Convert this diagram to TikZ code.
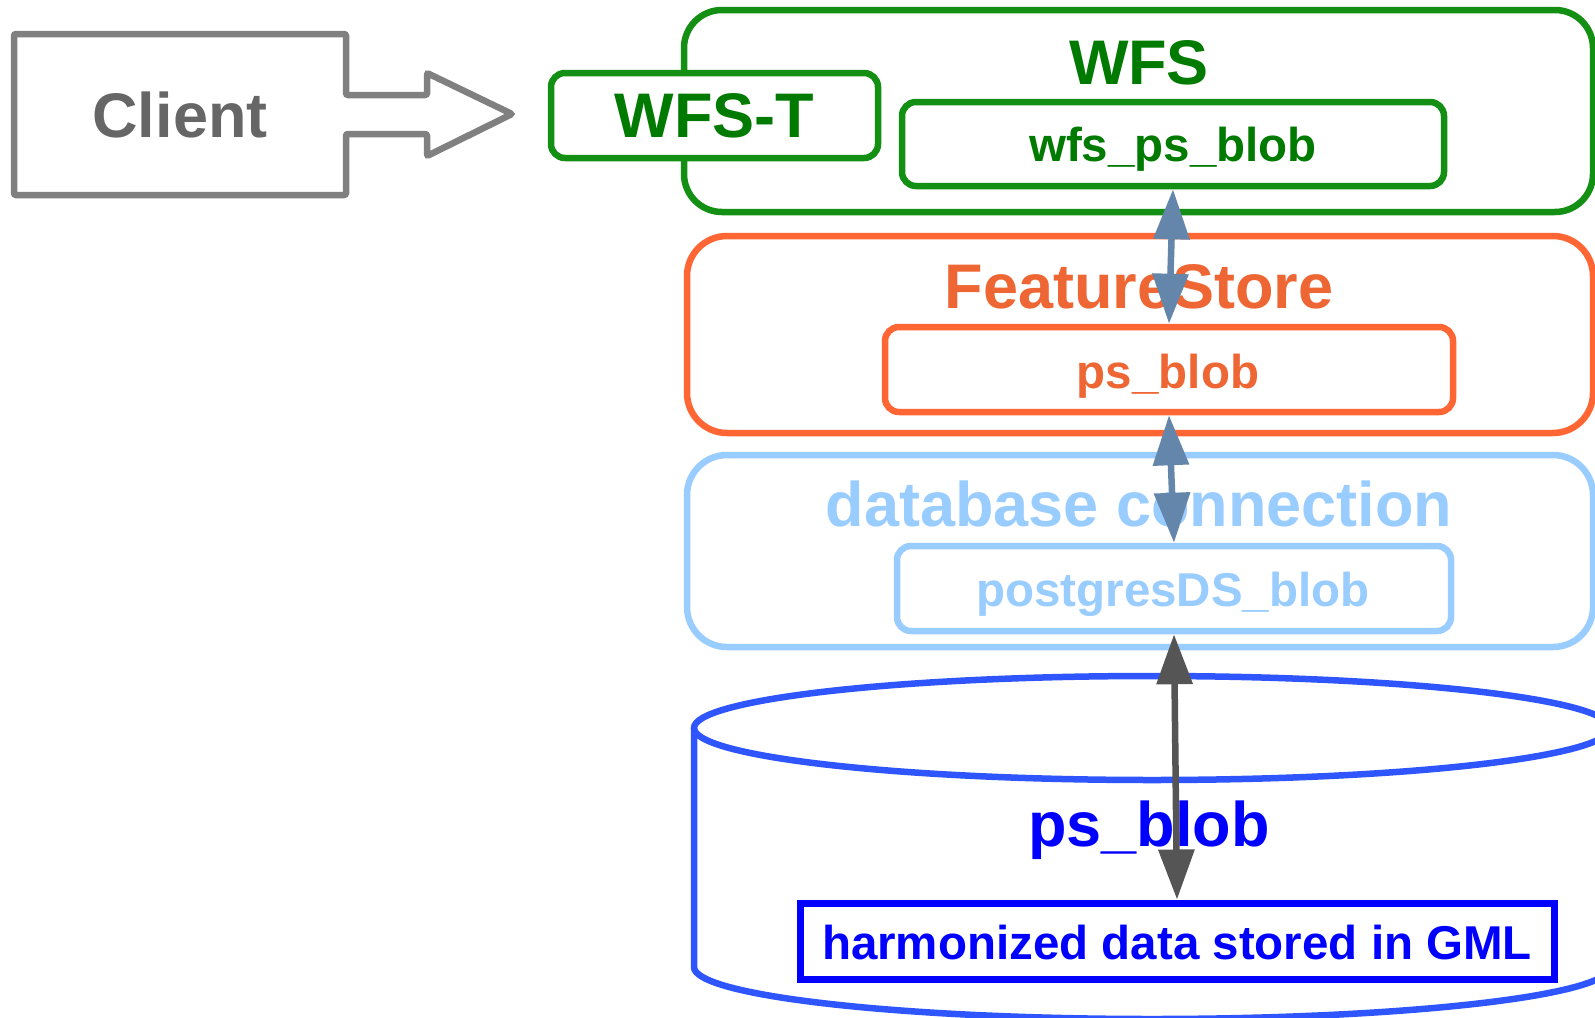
\documentclass[tikz,border=0pt]{standalone}
\usepackage{fontspec}
\setmainfont{Liberation Sans}
\usetikzlibrary{arrows.meta}
\definecolor{cgray}{HTML}{808080}
\definecolor{ctext}{HTML}{666666}
\definecolor{wgreen}{HTML}{138F13}
\definecolor{wtext}{HTML}{007A00}
\definecolor{forange}{HTML}{FF6633}
\definecolor{ftext}{HTML}{EE6633}
\definecolor{dblue}{HTML}{99CCFF}
\definecolor{cylblue}{HTML}{2F55FF}
\definecolor{pblue}{HTML}{0000FF}
\definecolor{arrblue}{HTML}{6486AA}
\definecolor{arrdark}{HTML}{555555}
\begin{document}
\begin{tikzpicture}[x=1pt,y=-1pt,
 box/.style={draw, line width=6.5pt, rectangle, inner sep=0pt, fill=white},
 big/.style={font=\fontsize{63}{63}\selectfont\bfseries, anchor=base, inner sep=0pt},
 small/.style={font=\fontsize{47.5}{48}\selectfont\bfseries, anchor=base, inner sep=0pt},
 link/.style={line width=6.5pt, {Triangle[width=35pt,length=50pt]}-{Triangle[width=35pt,length=50pt]}},
]
\useasboundingbox[fill=white] (0,0) rectangle (1595,1017);

% Client block with arrow
\draw[cgray, line width=6.5pt, rounded corners=2pt]
  (14,34) -- (346,34) -- (346,95) -- (427,95) -- (427,73) -- (512,114)
  -- (427,156) -- (427,134) -- (346,134) -- (346,195) -- (14,195) -- cycle;
\node[big, text=ctext] (client) at (180,137) {Client};

% WFS
\node[box, draw=wgreen, rounded corners=38pt, minimum width=909pt, minimum height=202pt] (wfs) at (1138.5,111) {};
\node[big, text=wtext] (wfstitle) at (1139,84) {WFS};
\node[box, draw=wgreen, rounded corners=14pt, minimum width=327pt, minimum height=85pt] (wfst) at (714.5,115.5) {};
\node[big, text=wtext] (wfstlabel) at (714.5,137) {WFS-T};
\node[box, draw=wgreen, rounded corners=14pt, minimum width=542pt, minimum height=84pt] (wfsps) at (1173,144) {};
\node[small, text=wtext] (wfspslabel) at (1173,161) {wfs\_ps\_blob};

% FeatureStore
\node[box, draw=forange, rounded corners=40pt, minimum width=906pt, minimum height=197pt] (fs) at (1140,334.5) {};
\node[big, text=ftext] (fstitle) at (1139,308) {FeatureStore};
\node[box, draw=forange, rounded corners=14pt, minimum width=568pt, minimum height=85pt] (psb) at (1169,369.5) {};
\node[small, text=ftext] (psblabel) at (1168,388) {ps\_blob};

% database connection
\node[box, draw=dblue, rounded corners=40pt, minimum width=906pt, minimum height=192pt] (db) at (1140,551) {};
\node[big, text=dblue] (dbtitle) at (1139,526) {database connection};
\node[box, draw=dblue, rounded corners=14pt, minimum width=554pt, minimum height=85pt] (pg) at (1174,588.5) {};
\node[small, text=dblue] (pglabel) at (1173,606) {postgresDS\_blob};

% cylinder
\draw[cylblue, line width=6.5pt] (1152,728) ellipse [x radius=458, y radius=52];
\draw[cylblue, line width=6.5pt] (694,728) -- (694,967) arc[start angle=180, end angle=0, x radius=458, y radius=52] -- (1610,728);
\node[big, text=pblue] (cyltitle) at (1149,846) {ps\_blob};
\node[draw=pblue, line width=7pt, inner sep=0pt, fill=white, minimum width=754pt, minimum height=76pt] (gml) at (1177,941) {};
\node[small, text=pblue] (gmllabel) at (1177,959) {harmonized data stored in GML};

% connectors
\draw[link, arrblue] (wfsps.south) -- (psb.north);
\draw[link, arrblue] (psb.south) -- (pg.north);
\draw[link, arrdark] (pg.south) -- (gml.north);
\end{tikzpicture}
\end{document}
